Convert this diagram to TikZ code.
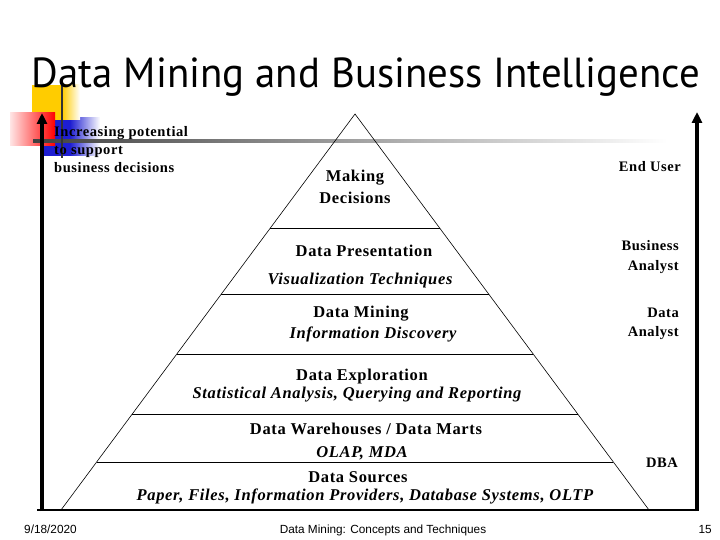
\documentclass[tikz,border=0pt]{standalone}
\usepackage{fontspec}
\setmainfont{Liberation Serif}
\newfontfamily\titlefont{PT Sans}
\newfontfamily\footfont{Liberation Sans}
\newfontfamily\pyrfont[LetterSpace=4]{Liberation Serif}
\usetikzlibrary{arrows.meta}
\definecolor{decoyellow}{RGB}{255,204,0}
\definecolor{decored}{RGB}{255,0,0}
\definecolor{decoblue}{RGB}{30,30,210}
\tikzset{
  pyr/.style={font=\pyrfont\fontsize{16.5}{19}\selectfont\bfseries, inner sep=0pt, anchor=base},
  pyri/.style={font=\pyrfont\fontsize{16.5}{19}\selectfont\bfseries\itshape, inner sep=0pt, anchor=base},
  side/.style={font=\pyrfont\fontsize{14.5}{18}\selectfont\bfseries, inner sep=0pt, anchor=base east},
  lefttext/.style={font=\pyrfont\fontsize{14.5}{18}\selectfont\bfseries, inner sep=0pt, anchor=base west},
  foot/.style={font=\footfont\fontsize{11.8}{13}\selectfont, inner sep=0pt},
  layer/.style={line width=0.9pt},
  edge/.style={line width=0.6pt},
  bigarrow/.style={line width=4pt, -{Triangle[width=10pt,length=11pt]}},
}
\begin{document}
\begin{tikzpicture}[x=1pt,y=-1pt]
\useasboundingbox (0,0) rectangle (720,540);
\fill[white] (0,0) rectangle (720,540);

% decoration
\fill[decoblue] (43,118) rectangle (70,156);
\shade[left color=decoblue,right color=white] (70,118) rectangle (100,156);
\fill[decoyellow] (32,85) rectangle (62,120);
\shade[left color=decoyellow,right color=white] (62,85) rectangle (80,120);
\shade[left color=decored!10,right color=decored] (10,113) rectangle (55,146);
\shade[left color=black!75,right color=white] (33,139.5) rectangle (667,142.5);
\draw[line width=2.5pt,black!80] (62,80) -- (62,158);

% title
\node[inner sep=0pt,anchor=base] (title) at (366,88)
  {\resizebox{668pt}{\height}{\titlefont\fontsize{42}{48}\selectfont Data Mining and Business Intelligence}};

% pyramid
\coordinate (A) at (355,114);
\coordinate (BL) at (61,510);
\coordinate (BR) at (649,510);
\coordinate (L1) at (270.36,228); \coordinate (R1) at (439.64,228);
\coordinate (L2) at (221.36,294); \coordinate (R2) at (488.64,294);
\coordinate (L3) at (176.82,354); \coordinate (R3) at (533.18,354);
\coordinate (L4) at (132.27,414); \coordinate (R4) at (577.73,414);
\coordinate (L5) at (96.64,462);  \coordinate (R5) at (613.36,462);
\coordinate (B0) at (37,510);
\coordinate (B1) at (697,510);
\draw[edge] (BL) -- (A) -- (BR);
\draw[layer] (L1) -- (R1);
\draw[layer] (L2) -- (R2);
\draw[layer] (L3) -- (R3);
\draw[layer] (L4) -- (R4);
\draw[layer] (L5) -- (R5);
\draw[line width=1.1pt] (B0) -- (B1);

% arrows
\coordinate (LA0) at (42,511);
\coordinate (LA1) at (42,113);
\coordinate (RA0) at (697,511);
\coordinate (RA1) at (697,112);
\draw[bigarrow] (LA0) -- (LA1);
\draw[bigarrow] (RA0) -- (RA1);

% left text
\node[lefttext] (inc1) at (54,137) {Increasing potential};
\node[lefttext] (inc2) at (54,155) {to support};
\node[lefttext] (inc3) at (54,173) {business decisions};

% pyramid text
\node[pyr] (mk1) at (355,182) {Making};
\node[pyr] (mk2) at (355,204) {Decisions};
\node[pyr] (dp) at (364,256) {Data Presentation};
\node[pyri] (vt) at (360,284) {Visualization Techniques};
\node[pyr] (dm) at (361,317) {Data Mining};
\node[pyri] (id) at (373,338) {Information Discovery};
\node[pyr] (de) at (362,380) {Data Exploration};
\node[pyri] (sa) at (357,398) {Statistical Analysis, Querying and Reporting};
\node[pyr] (dw) at (366,434) {Data Warehouses / Data Marts};
\node[pyri] (ol) at (362,457) {OLAP, MDA};
\node[pyr] (ds) at (358,482) {Data Sources};
\node[pyri] (pf) at (365,500) {Paper, Files, Information Providers, Database Systems, OLTP};

% right labels
\node[side] (eu) at (681,172) {End User};
\node[side] (ba1) at (679,251) {Business};
\node[side] (ba2) at (679,270) {Analyst};
\node[side] (da1) at (679,317) {Data};
\node[side] (da2) at (679,336) {Analyst};
\node[side] (dba) at (678,467) {DBA};

% footer
\node[foot,anchor=base west] (date) at (24,533) {9/18/2020};
\node[foot,anchor=base] (course) at (383,533) {Data Mining: Concepts and Techniques};
\node[foot,anchor=base east] (page) at (712,533) {15};
\end{tikzpicture}
\end{document}
